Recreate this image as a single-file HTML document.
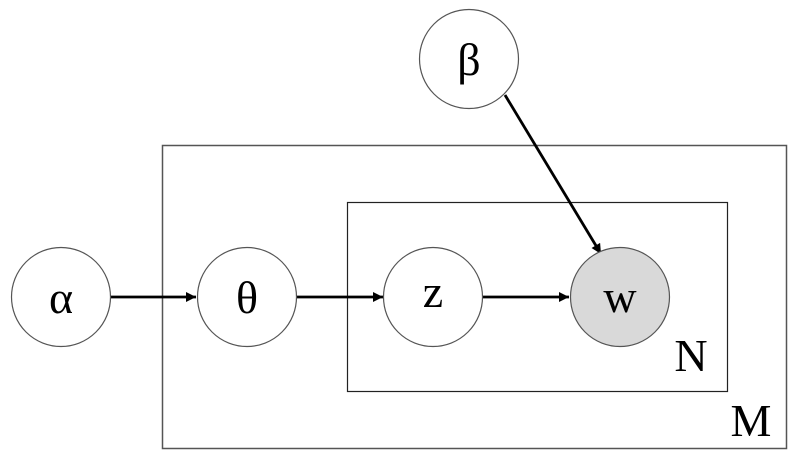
<!DOCTYPE html>
<html><head><meta charset="utf-8"><style>html,body{margin:0;padding:0;background:#fff}svg{display:block}</style></head>
<body>
<svg width="801" height="462" viewBox="0 0 801 462" xmlns="http://www.w3.org/2000/svg" style="font-family:'Liberation Serif','Times New Roman',serif">
<defs>
<marker id="b" viewBox="0 0 10 10" refX="10" refY="5" markerWidth="12" markerHeight="10" orient="auto" markerUnits="userSpaceOnUse"><path d="M0,0 L10,5 L0,10 z" fill="#000"/></marker></defs>
<rect x="162.5" y="145.5" width="624" height="303" fill="none" stroke="#555" stroke-width="1.5"/>
<rect x="347.5" y="202.5" width="380" height="189" fill="none" stroke="#222" stroke-width="1.2"/>
<g stroke="#000" stroke-width="2.8" fill="none">
<line x1="110" y1="297" x2="196" y2="297" marker-end="url(#b)"/>
<line x1="297" y1="297" x2="383" y2="297" marker-end="url(#b)"/>
<line x1="483" y1="297" x2="569" y2="297" marker-end="url(#b)"/>
<line x1="505" y1="95" x2="601" y2="254" marker-end="url(#b)"/>
</g>
<g stroke="#555" stroke-width="1.2">
<circle cx="61" cy="297" r="49.5" fill="#fff"/>
<circle cx="247" cy="297" r="49.5" fill="#fff"/>
<circle cx="433" cy="297" r="49.5" fill="#fff"/>
<circle cx="620" cy="297" r="49.5" fill="#d9d9d9"/>
<circle cx="469" cy="59" r="49.5" fill="#fff"/>
</g>
<g font-size="46" text-anchor="middle" fill="#000">
<text x="61" y="313">α</text>
<text x="247" y="313">θ</text>
<text x="433" y="307">z</text>
<text x="620" y="312">w</text>
<text x="469" y="75">β</text>
<text x="691" y="371" font-size="46">N</text>
<text x="751" y="436" font-size="46">M</text>
</g>
</svg>
</body></html>
